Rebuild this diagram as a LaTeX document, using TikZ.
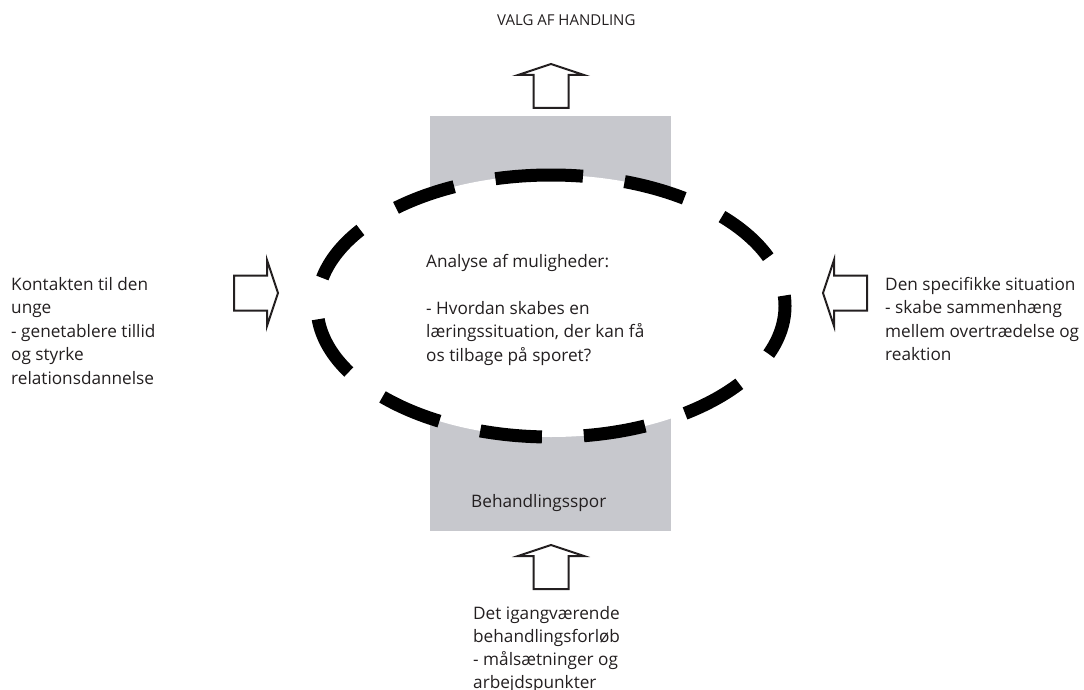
\documentclass[tikz,border=0pt]{standalone}
\usepackage{fontspec}
\setmainfont{Open Sans}
\definecolor{inkcol}{RGB}{35,31,32}
\definecolor{trackgray}{RGB}{199,200,205}
\tikzset{
  arrowline/.style={draw=inkcol, line width=2pt, fill=white, line join=miter},
  blockarrow/.pic={\path[arrowline] (0,0) -- (33,11) -- (17.5,11) -- (17.5,44)
      -- (-17.5,44) -- (-17.5,11) -- (-33,11) -- cycle;},
  label/.style={inner sep=0pt, anchor=base west, text=inkcol, font=\fontsize{17.2}{23.5}\selectfont},
}
\newcommand{\textlines}[1]{\begin{tabular}[t]{@{}l@{}}#1\end{tabular}}
\begin{document}
\begin{tikzpicture}[x=1pt, y=-1pt]
  \useasboundingbox (0,0) rectangle (1084,690);
  % track behind the analysis ellipse
  \fill[trackgray] (430,116) rectangle (671,531);
  % analysis ellipse
  \path[fill=white] (551,306) ellipse [x radius=234, y radius=131];
  \draw[line width=13pt, black, dash pattern=on 62pt off 42pt, dash phase=30pt]
    (551,175) arc [start angle=270, end angle=630, x radius=234, y radius=131];
  % block arrows
  \pic at (551,64) {blockarrow};
  \pic at (551,545) {blockarrow};
  \pic[rotate=-90] at (278,293) {blockarrow};
  \pic[rotate=90] at (823,293) {blockarrow};
  % texts
  \node[label, font=\fontsize{15}{18}\selectfont] (title) at (497,26) {VALG AF HANDLING};
  \node[label] (analyse) at (426,267) {\textlines{Analyse af muligheder:\\ \\
     - Hvordan skabes en\\ læringssituation, der kan få\\ os tilbage på sporet?}};
  \node[label] (track) at (471,507) {Behandlingsspor};
  \node[label] (contact) at (11,290) {\textlines{Kontakten til den\\ unge\\
     - genetablere tillid\\ og styrke\\ relationsdannelse}};
  \node[label] (situation) at (885,290) {\textlines{Den specifikke situation\\
     - skabe sammenhæng\\ mellem overtrædelse og\\ reaktion}};
  \node[label, font=\fontsize{17.2}{23}\selectfont] (course) at (473,619)
    {\textlines{Det igangværende\\ behandlingsforløb\\ - målsætninger og\\ arbejdspunkter}};
\end{tikzpicture}
\end{document}
